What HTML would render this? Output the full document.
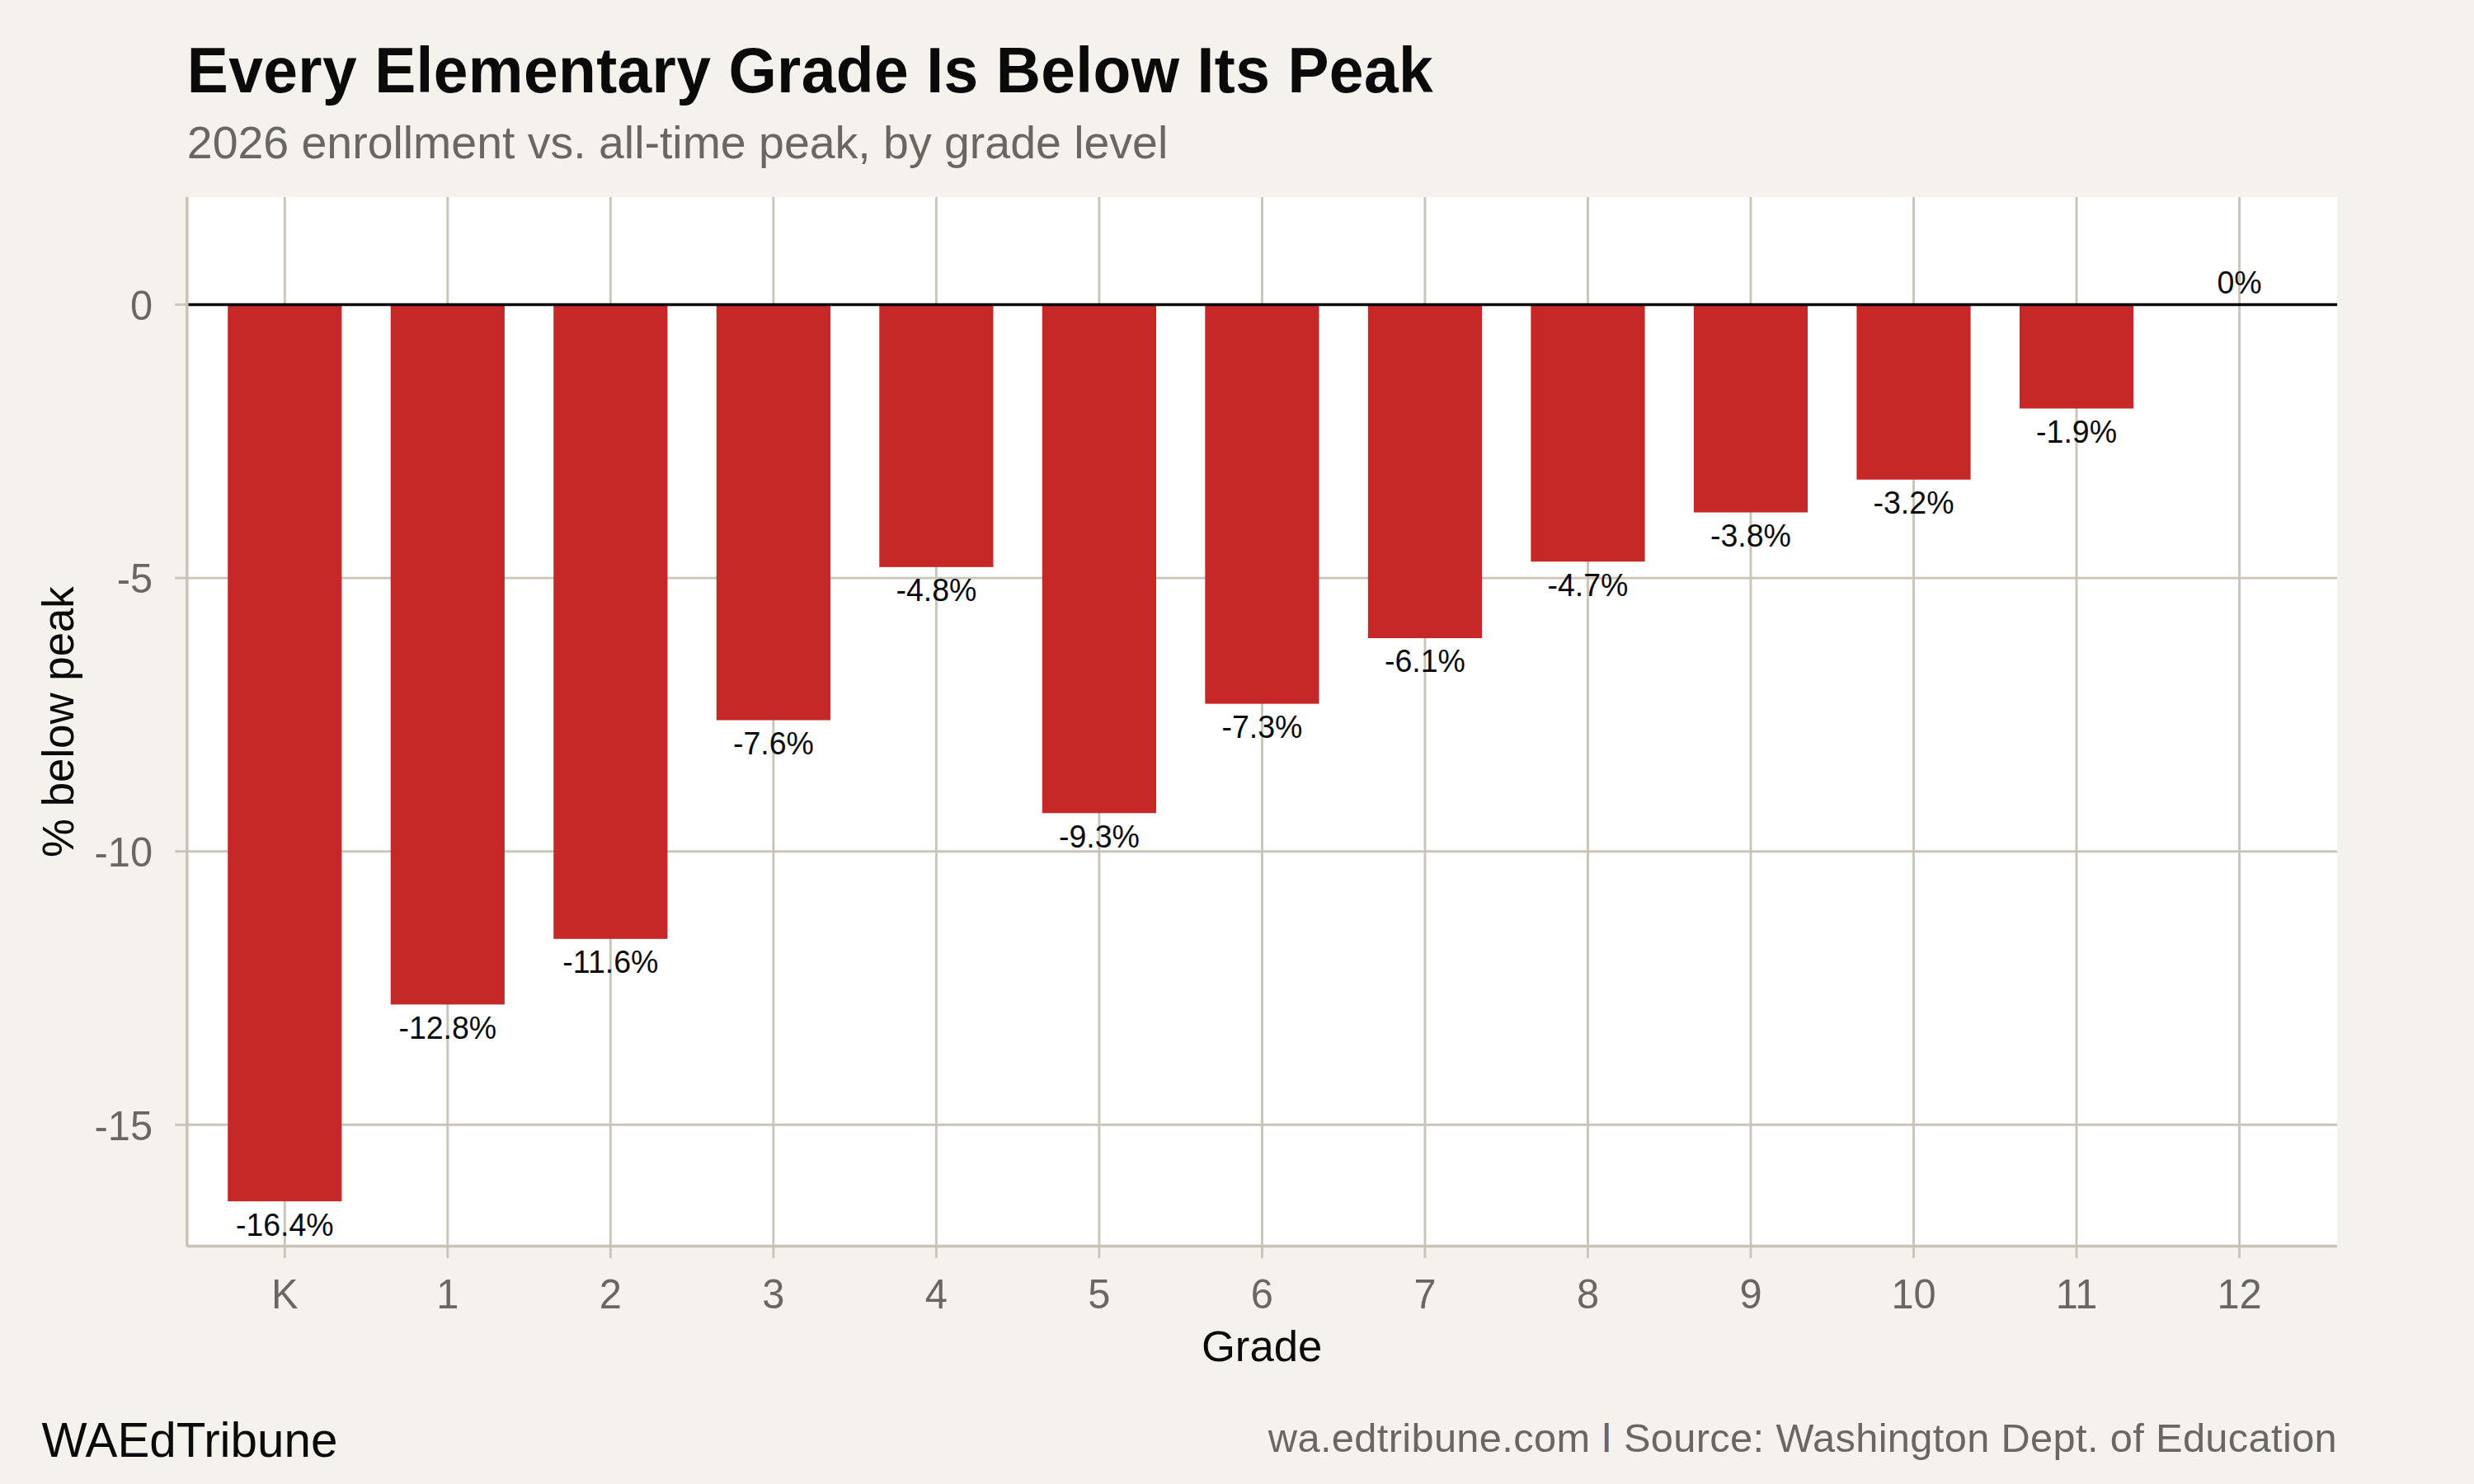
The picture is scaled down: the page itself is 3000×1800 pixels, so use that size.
<!DOCTYPE html>
<html lang="en"><head><meta charset="utf-8"><title>Every Elementary Grade Is Below Its Peak</title>
<style>html,body{margin:0;padding:0;background:#f5f2ed;}body{width:3000px;height:1800px;overflow:hidden;}svg{display:block;}text{font-family:"Liberation Sans",Arial,Helvetica,sans-serif;}</style></head><body>
<svg width="3000" height="1800" viewBox="0 0 3000 1800">
<rect x="0" y="0" width="3000" height="1800" fill="#f5f2ed"/>
<rect x="226.80" y="239.00" width="2607.30" height="1272.40" fill="#ffffff"/>
<g stroke="#cac4ba" stroke-width="2.9" fill="none"><line x1="226.80" x2="2834.10" y1="701.10" y2="701.10"/><line x1="226.80" x2="2834.10" y1="1032.70" y2="1032.70"/><line x1="226.80" x2="2834.10" y1="1364.30" y2="1364.30"/><line x1="345.30" x2="345.30" y1="239.00" y2="1511.40"/><line x1="542.82" x2="542.82" y1="239.00" y2="1511.40"/><line x1="740.34" x2="740.34" y1="239.00" y2="1511.40"/><line x1="937.86" x2="937.86" y1="239.00" y2="1511.40"/><line x1="1135.38" x2="1135.38" y1="239.00" y2="1511.40"/><line x1="1332.90" x2="1332.90" y1="239.00" y2="1511.40"/><line x1="1530.42" x2="1530.42" y1="239.00" y2="1511.40"/><line x1="1727.94" x2="1727.94" y1="239.00" y2="1511.40"/><line x1="1925.46" x2="1925.46" y1="239.00" y2="1511.40"/><line x1="2122.98" x2="2122.98" y1="239.00" y2="1511.40"/><line x1="2320.50" x2="2320.50" y1="239.00" y2="1511.40"/><line x1="2518.02" x2="2518.02" y1="239.00" y2="1511.40"/><line x1="2715.54" x2="2715.54" y1="239.00" y2="1511.40"/><line x1="226.80" x2="2834.10" y1="369.50" y2="369.50"/></g>
<g fill="#c62828"><rect x="276.20" y="369.50" width="138.20" height="1087.65"/><rect x="473.72" y="369.50" width="138.20" height="848.90"/><rect x="671.24" y="369.50" width="138.20" height="769.31"/><rect x="868.76" y="369.50" width="138.20" height="504.03"/><rect x="1066.28" y="369.50" width="138.20" height="318.34"/><rect x="1263.80" y="369.50" width="138.20" height="616.78"/><rect x="1461.32" y="369.50" width="138.20" height="484.14"/><rect x="1658.84" y="369.50" width="138.20" height="404.55"/><rect x="1856.36" y="369.50" width="138.20" height="311.70"/><rect x="2053.88" y="369.50" width="138.20" height="252.02"/><rect x="2251.40" y="369.50" width="138.20" height="212.22"/><rect x="2448.92" y="369.50" width="138.20" height="126.01"/></g>
<line x1="226.80" x2="2834.10" y1="369.50" y2="369.50" stroke="#050505" stroke-width="3.3"/>
<g font-size="37.5" fill="#0a0a0a" text-anchor="middle"><text transform="translate(345.30,1498.55) scale(1,1.02)">-16.4%</text><text transform="translate(542.82,1259.80) scale(1,1.02)">-12.8%</text><text transform="translate(740.34,1180.21) scale(1,1.02)">-11.6%</text><text transform="translate(937.86,914.93) scale(1,1.02)">-7.6%</text><text transform="translate(1135.38,729.24) scale(1,1.02)">-4.8%</text><text transform="translate(1332.90,1027.68) scale(1,1.02)">-9.3%</text><text transform="translate(1530.42,895.04) scale(1,1.02)">-7.3%</text><text transform="translate(1727.94,815.45) scale(1,1.02)">-6.1%</text><text transform="translate(1925.46,722.60) scale(1,1.02)">-4.7%</text><text transform="translate(2122.98,662.92) scale(1,1.02)">-3.8%</text><text transform="translate(2320.50,623.12) scale(1,1.02)">-3.2%</text><text transform="translate(2518.02,536.91) scale(1,1.02)">-1.9%</text><text transform="translate(2715.54,356.40) scale(1,1.02)">0%</text></g>
<g stroke="#cac4ba" stroke-width="2.9" fill="none"><line x1="212.20" x2="226.80" y1="369.50" y2="369.50"/><line x1="212.20" x2="226.80" y1="701.10" y2="701.10"/><line x1="212.20" x2="226.80" y1="1032.70" y2="1032.70"/><line x1="212.20" x2="226.80" y1="1364.30" y2="1364.30"/><line x1="345.30" x2="345.30" y1="1511.40" y2="1525.90"/><line x1="542.82" x2="542.82" y1="1511.40" y2="1525.90"/><line x1="740.34" x2="740.34" y1="1511.40" y2="1525.90"/><line x1="937.86" x2="937.86" y1="1511.40" y2="1525.90"/><line x1="1135.38" x2="1135.38" y1="1511.40" y2="1525.90"/><line x1="1332.90" x2="1332.90" y1="1511.40" y2="1525.90"/><line x1="1530.42" x2="1530.42" y1="1511.40" y2="1525.90"/><line x1="1727.94" x2="1727.94" y1="1511.40" y2="1525.90"/><line x1="1925.46" x2="1925.46" y1="1511.40" y2="1525.90"/><line x1="2122.98" x2="2122.98" y1="1511.40" y2="1525.90"/><line x1="2320.50" x2="2320.50" y1="1511.40" y2="1525.90"/><line x1="2518.02" x2="2518.02" y1="1511.40" y2="1525.90"/><line x1="2715.54" x2="2715.54" y1="1511.40" y2="1525.90"/></g>
<g stroke="#c8c2b7" stroke-width="3.5" fill="none"><line x1="226.80" x2="226.80" y1="239.00" y2="1511.40"/><line x1="226.80" x2="2834.10" y1="1511.40" y2="1511.40"/></g>
<g font-size="48.75" fill="#6b665f" text-anchor="end"><text transform="translate(185.0,387.70) scale(1,1.03)">0</text><text transform="translate(185.0,719.30) scale(1,1.03)">-5</text><text transform="translate(185.0,1050.90) scale(1,1.03)">-10</text><text transform="translate(185.0,1382.50) scale(1,1.03)">-15</text></g>
<g font-size="48.75" fill="#6b665f" text-anchor="middle"><text transform="translate(345.30,1587.1) scale(1,1.03)">K</text><text transform="translate(542.82,1587.1) scale(1,1.03)">1</text><text transform="translate(740.34,1587.1) scale(1,1.03)">2</text><text transform="translate(937.86,1587.1) scale(1,1.03)">3</text><text transform="translate(1135.38,1587.1) scale(1,1.03)">4</text><text transform="translate(1332.90,1587.1) scale(1,1.03)">5</text><text transform="translate(1530.42,1587.1) scale(1,1.03)">6</text><text transform="translate(1727.94,1587.1) scale(1,1.03)">7</text><text transform="translate(1925.46,1587.1) scale(1,1.03)">8</text><text transform="translate(2122.98,1587.1) scale(1,1.03)">9</text><text transform="translate(2320.50,1587.1) scale(1,1.03)">10</text><text transform="translate(2518.02,1587.1) scale(1,1.03)">11</text><text transform="translate(2715.54,1587.1) scale(1,1.03)">12</text></g>
<text x="1530.1" y="1651" font-size="52.7" fill="#0a0a0a" text-anchor="middle">Grade</text>
<text transform="translate(88.7,875.6) rotate(-90)" font-size="52.8" fill="#0a0a0a" text-anchor="middle">% below peak</text>
<text transform="translate(226.8,112.1) scale(1,1.03)" font-size="75" letter-spacing="0.37" font-weight="bold" fill="#0a0a0a">Every Elementary Grade Is Below Its Peak</text>
<text x="226.8" y="192.1" font-size="55.45" letter-spacing="0" fill="#6b665f">2026 enrollment vs. all-time peak, by grade level</text>
<text x="50.6" y="1766.8" font-size="58.33" fill="#0a0a0a">WAEdTribune</text>
<text x="2834.1" y="1761.2" font-size="48.75" letter-spacing="0.36" fill="#6b665f" text-anchor="end">wa.edtribune.com <tspan font-size="36.75" font-weight="bold" dx="0.7" dy="-8.2">|</tspan><tspan dx="1.4" dy="8.2"> Source: Washington Dept. of Education</tspan></text>
</svg></body></html>
